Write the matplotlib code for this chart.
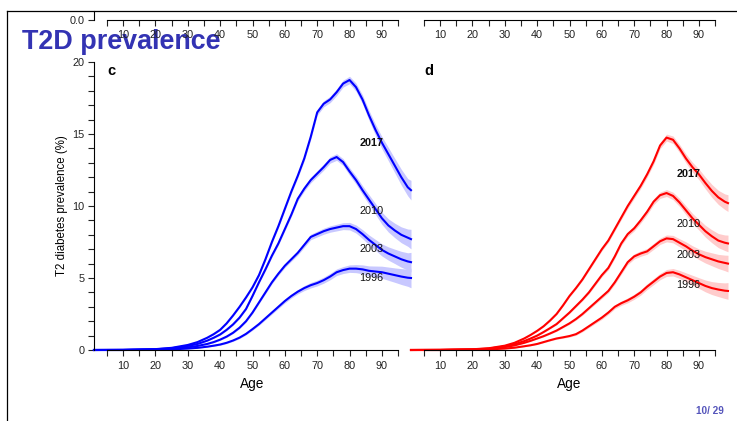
"""
T2D prevalence slide: diabetes prevalence by age, panels c (blue) and d (red).
"""
import matplotlib

matplotlib.use("Agg")
import matplotlib.pyplot as plt
from matplotlib.lines import Line2D
from matplotlib.ticker import FixedLocator, MultipleLocator

plt.rcParams["font.family"] = ["Liberation Sans", "DejaVu Sans"]

# ----------------------------------------------------------------------
# Data
# ----------------------------------------------------------------------
ages = [1, 10, 20, 25, 30, 33, 36, 38,
        40, 42, 44, 46, 48, 50, 52, 54, 56, 58,
        60, 62, 64, 66, 68, 70, 72, 74, 76, 78,
        80, 82, 84, 86, 88, 90, 92, 94, 96, 98,
        99]

years = ["2017", "2010", "2003", "1996"]

# panel c
c_2017 = [0, 0.01, 0.06, 0.15, 0.35, 0.55, 0.85, 1.1,
          1.4, 1.85, 2.4, 3.0, 3.65, 4.35, 5.2, 6.3, 7.5, 8.6,
          9.8, 11.0, 12.1, 13.3, 14.8, 16.5, 17.1, 17.4, 17.9, 18.5,
          18.75, 18.25, 17.4, 16.3, 15.3, 14.4, 13.6, 12.8, 12.0, 11.3,
          11.1]
c_2010 = [0, 0.01, 0.05, 0.12, 0.28, 0.42, 0.65, 0.85,
          1.08, 1.4, 1.78, 2.25, 2.85, 3.75, 4.7, 5.6, 6.55, 7.4,
          8.4, 9.4, 10.5, 11.2, 11.8, 12.25, 12.7, 13.2, 13.4, 13.05,
          12.4, 11.8, 11.1, 10.45, 9.8, 9.15, 8.65, 8.3, 8.0, 7.8,
          7.7]
c_2003 = [0, 0, 0.03, 0.08, 0.18, 0.28, 0.42, 0.55,
          0.72, 0.93, 1.2, 1.55, 2.0, 2.6, 3.3, 4.0, 4.7, 5.3,
          5.85, 6.3, 6.75, 7.3, 7.85, 8.05, 8.25, 8.4, 8.5, 8.6,
          8.6, 8.4, 8.05, 7.65, 7.3, 6.95, 6.7, 6.5, 6.3, 6.15,
          6.1]
c_1996 = [0, 0, 0.02, 0.04, 0.1, 0.15, 0.23, 0.3,
          0.38, 0.5, 0.66, 0.86, 1.12, 1.45, 1.8, 2.2, 2.6, 3.0,
          3.4, 3.75, 4.05, 4.3, 4.5, 4.65, 4.85, 5.1, 5.4, 5.55,
          5.65, 5.65, 5.6, 5.5, 5.45, 5.4, 5.3, 5.2, 5.1, 5.02,
          5.0]
c_band = [0, 0, 0.01, 0.01, 0.02, 0.03, 0.03, 0.04,
          0.05, 0.055, 0.06, 0.065, 0.07, 0.08, 0.09, 0.1, 0.11, 0.12,
          0.13, 0.14, 0.15, 0.17, 0.19, 0.2, 0.21, 0.22, 0.23, 0.24,
          0.26, 0.28, 0.31, 0.34, 0.38, 0.42, 0.46, 0.5, 0.55, 0.6,
          0.68]
c_label_y = [14.4, 9.65, 7.0, 5.0]

# panel d
d_2017 = [0, 0.01, 0.05, 0.12, 0.3, 0.5, 0.8, 1.05,
          1.33, 1.65, 2.05, 2.5, 3.1, 3.75, 4.3, 4.9, 5.6, 6.3,
          7.0, 7.6, 8.4, 9.2, 10.0, 10.7, 11.4, 12.2, 13.1, 14.2,
          14.75, 14.6, 14.0, 13.3, 12.7, 12.2, 11.6, 11.05, 10.6, 10.3,
          10.2]
d_2010 = [0, 0.01, 0.04, 0.1, 0.25, 0.4, 0.62, 0.8,
          1.0, 1.25, 1.52, 1.8, 2.2, 2.6, 3.05, 3.5, 4.0, 4.6,
          5.2, 5.7, 6.5, 7.4, 8.05, 8.45, 9.0, 9.6, 10.3, 10.75,
          10.9, 10.7, 10.25, 9.7, 9.15, 8.7, 8.25, 7.9, 7.6, 7.45,
          7.4]
d_2003 = [0, 0, 0.03, 0.08, 0.2, 0.32, 0.5, 0.64,
          0.8, 0.96, 1.15, 1.35, 1.6, 1.85, 2.15, 2.5, 2.9, 3.3,
          3.7, 4.1, 4.7, 5.4, 6.1, 6.5, 6.7, 6.85, 7.2, 7.55,
          7.75, 7.7, 7.45, 7.2, 6.9, 6.65, 6.45, 6.3, 6.15, 6.05,
          6.0]
d_1996 = [0, 0, 0.02, 0.04, 0.1, 0.16, 0.26, 0.33,
          0.42, 0.55, 0.68, 0.8, 0.88, 0.97, 1.1, 1.35, 1.65, 1.95,
          2.25, 2.6, 3.0, 3.25, 3.45, 3.7, 4.0, 4.4, 4.75, 5.1,
          5.35, 5.4, 5.25, 5.05, 4.85, 4.65, 4.45, 4.3, 4.2, 4.12,
          4.1]
d_band = [0, 0, 0.01, 0.01, 0.02, 0.02, 0.03, 0.03,
          0.04, 0.045, 0.05, 0.055, 0.06, 0.07, 0.08, 0.09, 0.1, 0.11,
          0.12, 0.13, 0.14, 0.15, 0.17, 0.18, 0.19, 0.2, 0.21, 0.22,
          0.24, 0.26, 0.28, 0.31, 0.34, 0.37, 0.41, 0.45, 0.49, 0.54,
          0.58]
d_label_y = [12.2, 8.75, 6.6, 4.5]

label_age = 83
x_ticks = list(range(5, 100, 5))
x_labels = [str(t) if t % 10 == 0 else "" for t in x_ticks]

TITLE_BLUE = "#3333b3"
TICK_FS = 7.8


# ----------------------------------------------------------------------
# Helpers
# ----------------------------------------------------------------------
def style_age_axis(ax):
    ax.set_xlim(1, 99)
    ax.xaxis.set_major_locator(FixedLocator(x_ticks))
    ax.set_xticklabels(x_labels)
    ax.spines["bottom"].set_bounds(5, 95)
    ax.spines["top"].set_visible(False)
    ax.spines["right"].set_visible(False)
    ax.tick_params(axis="x", direction="out", length=4.4, width=0.8,
                   pad=3.2, labelsize=TICK_FS, colors="#222222")
    ax.set_facecolor("none")


def draw_panel(ax, series, band, label_y, color, band_color, letter):
    for name, vals, ly in zip(years, series, label_y):
        lo = [v - b for v, b in zip(vals, band)]
        hi = [v + b for v, b in zip(vals, band)]
        ax.fill_between(ages, lo, hi, color=band_color, lw=0, zorder=1)
        ax.plot(ages, vals, color=color, lw=1.5, zorder=2,
                solid_joinstyle="round", clip_on=False)
        ax.text(label_age, ly, name, fontsize=7.8, va="center", ha="left",
                fontweight="bold" if name == "2017" else "normal",
                color="#111111", zorder=3)
    ax.text(5, 19.4, letter, fontsize=10.5, fontweight="bold",
            va="center", ha="left")
    ax.set_ylim(0, 20)
    style_age_axis(ax)
    ax.set_xlabel("Age", fontsize=9.8)
    ax.xaxis.label.set_va("center")
    ax.xaxis.set_label_coords(0.5, -0.118)


# ----------------------------------------------------------------------
# Figure
# ----------------------------------------------------------------------
fig = plt.figure(figsize=(7.37, 4.21), dpi=100)
W, H = 737.0, 421.0

# slide title (drawn underneath the figure content)
fig.text(22 / W, 1 - 49 / H, "T2D prevalence", fontsize=19.4,
         fontweight="bold", color=TITLE_BLUE, ha="left", va="baseline",
         zorder=-5)

# remnants of the panels above (only their bottom axes are visible)
for left in (94, 411):
    top_ax = fig.add_axes([left / W, 1 - 19.5 / H, 317 / W, 8.5 / H])
    style_age_axis(top_ax)
    top_ax.set_ylim(0, 1)
    if left == 94:
        top_ax.yaxis.set_major_locator(FixedLocator([0]))
        top_ax.set_yticklabels(["0.0"])
        top_ax.tick_params(axis="y", direction="out", length=4.4, width=0.8,
                           pad=2.5, labelsize=TICK_FS, colors="#222222")
    else:
        top_ax.spines["left"].set_visible(False)
        top_ax.set_yticks([])

ax_c = fig.add_axes([94 / W, 1 - 350 / H, 317 / W, 288 / H])
ax_d = fig.add_axes([411 / W, 1 - 350 / H, 317 / W, 288 / H])

draw_panel(ax_c, [c_2017, c_2010, c_2003, c_1996], c_band, c_label_y,
           "#0000ff", "#c8c8ff", "c")
draw_panel(ax_d, [d_2017, d_2010, d_2003, d_1996], d_band, d_label_y,
           "#ff0000", "#ffcccc", "d")

# y axis only on the left panel
ax_c.spines["left"].set_bounds(0, 20)
ax_c.yaxis.set_major_locator(FixedLocator([0, 5, 10, 15, 20]))
ax_c.yaxis.set_minor_locator(MultipleLocator(1))
ax_c.tick_params(axis="y", which="both", direction="out", length=4.4,
                 width=0.8, pad=2.5, labelsize=TICK_FS, colors="#222222")
ax_c.set_ylabel("T2 diabetes prevalence (%)", fontsize=8.3)
ax_c.yaxis.label.set_va("center")
ax_c.yaxis.set_label_coords(-0.101, 0.5)

ax_d.spines["left"].set_visible(False)
ax_d.set_yticks([])

# beamer frame lines
fig.add_artist(Line2D([7 / W, 1], [1 - 10.5 / H, 1 - 10.5 / H],
                      transform=fig.transFigure, color="black", lw=0.9))
fig.add_artist(Line2D([7 / W, 7 / W], [0, 1 - 10.5 / H],
                      transform=fig.transFigure, color="black", lw=0.9))

# page number
fig.text(724 / W, 1 - 411.5 / H, "10/ 29", fontsize=7.2, fontweight="bold",
         color="#5555bb", ha="right", va="center")

fig.savefig("out.png", dpi=100)
